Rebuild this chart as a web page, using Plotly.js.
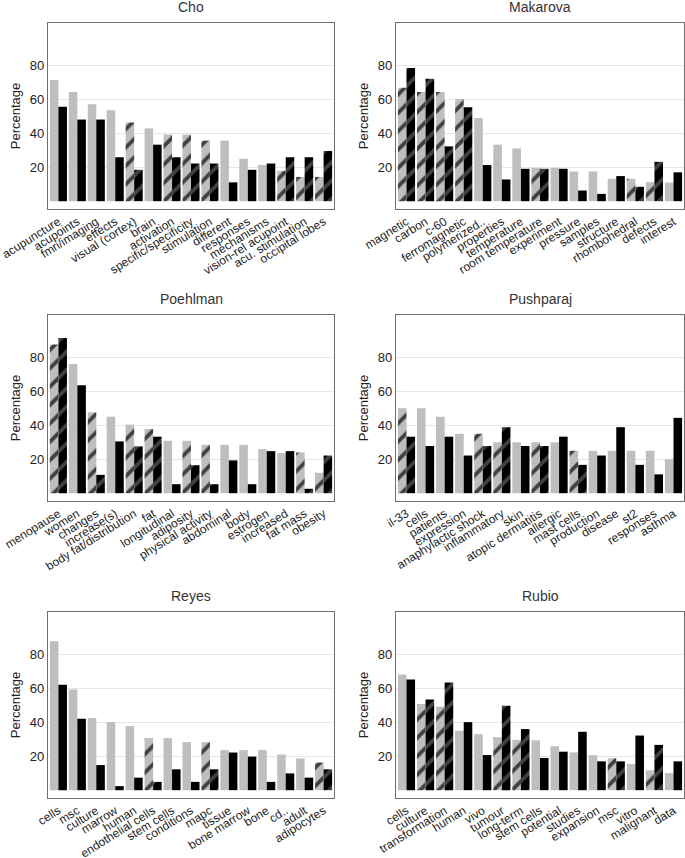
<!DOCTYPE html>
<html>
<head>
<meta charset="utf-8">
<script src="https://cdn.plot.ly/plotly-3.0.1.min.js"></script>
<style>html,body{margin:0;padding:0;background:#fff;}#chart{width:685px;height:858px;}</style>
</head>
<body>
<div id="chart"></div>
<script>
// ---- Data ----
const panelNames = ["Cho", "Makarova", "Poehlman", "Pushparaj", "Reyes", "Rubio"];

const choTerms = ["acupuncture","acupoints","fmri/imaging","effects","visual (cortex)","brain","activation","specific/specificity","stimulation","different","responses","mechanisms","vision-rel acupoint","acu. stimulation","occipital lobes"];
const choGray  = [71.4, 64.3, 57.1, 53.6, 46.4, 42.9, 39.3, 39.3, 35.7, 35.7, 25.0, 21.4, 17.9, 14.3, 14.3];
const choBlack = [55.6, 48.1, 48.1, 25.9, 18.5, 33.3, 25.9, 22.2, 22.2, 11.1, 18.5, 22.2, 25.9, 25.9, 29.6];
const choHatch = [0,0,0,0,1,0,1,1,1,0,0,0,1,1,1];

const makTerms = ["magnetic","carbon","c-60","ferromagnetic","polymerized..","properties","temperature","room temperature","experiment","pressure","samples","structure","rhombohedral","defects","interest"];
const makGray  = [66.9, 64.4, 64.4, 60.2, 49.0, 33.3, 31.1, 19.7, 19.7, 17.5, 17.5, 13.2, 13.2, 11.2, 11.0];
const makBlack = [78.5, 72.2, 32.3, 55.3, 21.3, 12.8, 19.1, 19.1, 19.1, 6.3, 4.3, 14.8, 8.5, 23.2, 17.0];
const makHatch = [1,1,1,1,0,0,0,1,0,0,0,0,1,1,0];

const poeTerms = ["menopause","women","changes","increase(s)","body fat/distribution","fat","longitudinal","adiposity","physical activity","abdominal","body","estrogen","increased","fat mass","obesity"];
const poeGray  = [87.6, 76.2, 47.6, 45.1, 40.4, 37.8, 30.9, 30.9, 28.5, 28.5, 28.5, 26.0, 23.6, 24.0, 12.0];
const poeBlack = [91.5, 63.6, 10.8, 30.5, 27.6, 33.3, 5.3, 16.5, 5.3, 19.3, 5.3, 24.8, 24.8, 2.6, 22.2];
const poeHatch = [1,0,1,0,1,1,0,1,1,0,0,0,0,1,1];

const pusTerms = ["il-33","cells","patients","expression","anaphylactic shock","inflammatory","skin","atopic dermatitis","allergic","mast cells","production","disease","st2","responses","asthma"];
const pusGray  = [50, 50, 45, 35, 35, 30, 30, 30, 30, 25, 25, 25, 25, 25, 20];
const pusBlack = [33.3, 27.8, 33.3, 22.2, 27.8, 38.9, 27.8, 27.8, 33.3, 16.7, 22.2, 38.9, 16.7, 11.1, 44.4];
const pusHatch = [1,0,0,0,1,1,0,1,0,1,0,0,0,0,0];

const reyTerms = ["cells","msc","culture","marrow","human","endothelial cells","stem cells","conditions","mapc","tissue","bone marrow","bone","cd..","adult","adipocytes"];
const reyGray  = [87.8, 59.3, 42.5, 40.2, 37.8, 30.7, 30.7, 28.3, 28.3, 23.6, 23.6, 23.6, 21.0, 18.7, 16.3];
const reyBlack = [62.2, 42.1, 14.8, 2.4, 7.4, 4.9, 12.3, 4.9, 12.3, 22.2, 19.8, 4.9, 9.9, 7.4, 12.3];
const reyHatch = [0,0,0,0,0,1,0,0,1,0,0,0,0,0,1];

const rubTerms = ["cells","culture","transformation","human","vivo","tumour","long-term","stem cells","potential","studies","expansion","msc","vitro","malignant","data"];
const rubGray  = [68.2, 50.8, 49.2, 35.0, 33.0, 31.2, 29.6, 29.4, 25.9, 22.3, 20.6, 18.8, 15.4, 11.7, 10.1];
const rubBlack = [65.2, 53.4, 63.4, 40.1, 20.7, 49.8, 36.0, 19.0, 22.7, 34.4, 17.0, 17.0, 32.2, 26.7, 17.0];
const rubHatch = [0,1,1,0,0,1,1,0,0,0,0,1,0,1,0];

const yTicks = [20, 40, 60, 80];

// ---- Build ----
const panels = [
  [choTerms, choGray, choBlack, choHatch],
  [makTerms, makGray, makBlack, makHatch],
  [poeTerms, poeGray, poeBlack, poeHatch],
  [pusTerms, pusGray, pusBlack, pusHatch],
  [reyTerms, reyGray, reyBlack, reyHatch],
  [rubTerms, rubGray, rubBlack, rubHatch]
];

const W = 685, H = 858;
const colX = [[48, 334], [396, 684]];
const rowY = [[23, 209], [315, 501], [612, 798]];
const FONT = "Liberation Sans, Arial, Helvetica, sans-serif";
const GRAY = "#bebebe", BLACK = "#000000", HATCH = "#404040";

const traces = [];
const layout = {
  width: W, height: H,
  margin: {l: 0, r: 0, t: 0, b: 0},
  paper_bgcolor: "#fff", plot_bgcolor: "#fff",
  showlegend: false,
  barmode: "group", bargap: 0.1, bargroupgap: 0,
  font: {family: FONT, size: 12, color: "#333"},
  annotations: []
};

panels.forEach((p, i) => {
  const [terms, gray, black, hatch] = p;
  const r = Math.floor(i / 2), c = i % 2;
  const n = i + 1;
  const xa = "x" + (n === 1 ? "" : n), ya = "y" + (n === 1 ? "" : n);
  const shapes = hatch.map(h => h ? "/" : "");
  traces.push({
    type: "bar", x: terms, y: gray, xaxis: xa, yaxis: ya,
    marker: {color: GRAY, line: {width: 0},
      pattern: {shape: shapes, fgcolor: HATCH, bgcolor: GRAY, size: 13, solidity: 0.3, fillmode: "replace"}},
    hoverinfo: "skip"
  });
  traces.push({
    type: "bar", x: terms, y: black, xaxis: xa, yaxis: ya,
    marker: {color: BLACK, line: {width: 0},
      pattern: {shape: shapes, fgcolor: HATCH, bgcolor: BLACK, size: 13, solidity: 0.3, fillmode: "replace"}},
    hoverinfo: "skip"
  });
  const xk = "xaxis" + (n === 1 ? "" : n), yk = "yaxis" + (n === 1 ? "" : n);
  layout[xk] = {
    domain: [colX[c][0] / W, colX[c][1] / W],
    anchor: ya,
    type: "category",
    range: [-0.55, terms.length - 0.45],
    tickangle: -32,
    tickfont: {size: 12, color: "#222", family: FONT},
    ticks: "", showgrid: false, zeroline: false,
    showline: true, mirror: true, linecolor: "#6e6e6e", linewidth: 1.2,
    fixedrange: true
  };
  layout[yk] = {
    domain: [1 - rowY[r][1] / H, 1 - rowY[r][0] / H],
    anchor: xa,
    range: [-4.6, 105],
    tickvals: yTicks,
    ticktext: yTicks.map(String),
    tickfont: {size: 13, color: "#222", family: FONT},
    ticks: "", showgrid: true, gridcolor: "#e6e6e6", gridwidth: 1.3,
    zeroline: false,
    showline: true, mirror: true, linecolor: "#6e6e6e", linewidth: 1.2,
    title: {text: "Percentage", font: {size: 13, color: "#222", family: FONT}, standoff: 6},
    fixedrange: true
  };
  layout.annotations.push({
    text: panelNames[i],
    xref: "paper", yref: "paper",
    x: (colX[c][0] + colX[c][1]) / 2 / W,
    y: 1 - (rowY[r][0] - 16) / H,
    xanchor: "center", yanchor: "middle",
    showarrow: false,
    font: {size: 14, color: "#333", family: FONT, weight: "normal"}
  });
});

Plotly.newPlot("chart", traces, layout, {staticPlot: true, displayModeBar: false});
</script>
</body>
</html>
